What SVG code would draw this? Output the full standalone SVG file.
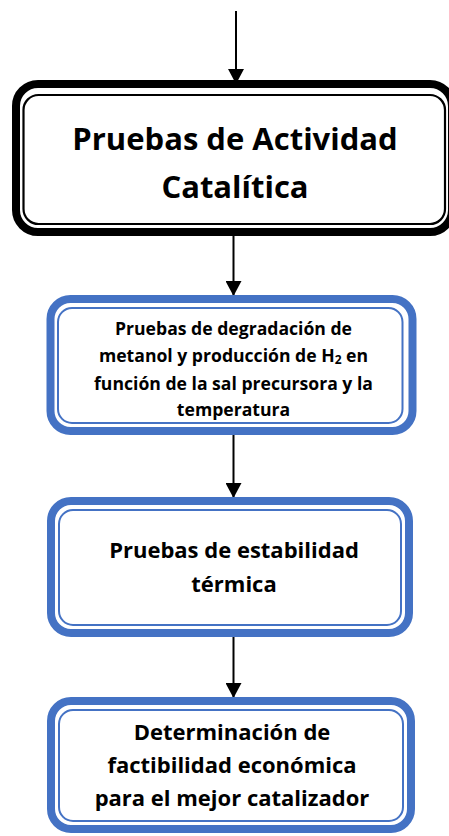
<svg xmlns="http://www.w3.org/2000/svg" width="449" height="836" viewBox="0 0 449 836">
<style>
.t{font-family:"Open Sans","Liberation Sans",sans-serif;font-weight:bold;fill:#000;text-anchor:middle}
.ob{fill:none;stroke:#000;stroke-width:8}
.ib{fill:#fff;stroke:#000;stroke-width:2.2}
.obl{fill:none;stroke:#4472C4;stroke-width:8}
.ibl{fill:#fff;stroke:#4472C4;stroke-width:2}
.c{stroke:#000;stroke-width:2;fill:none}
</style>
<defs>
<marker id="ah" markerWidth="16" markerHeight="16" refX="14" refY="8" orient="auto" markerUnits="userSpaceOnUse">
<path d="M0,0 L15,8 L0,16 z" fill="#000"/>
</marker>
</defs>
<rect width="449" height="836" fill="#fff"/>
<g id="connectors">
<line class="c" x1="236" y1="11" x2="236" y2="83" marker-end="url(#ah)"/>
<line class="c" x1="233.5" y1="234" x2="233.5" y2="295" marker-end="url(#ah)"/>
<line class="c" x1="233.5" y1="435" x2="233.5" y2="497" marker-end="url(#ah)"/>
<line class="c" x1="233.5" y1="637" x2="233.5" y2="697" marker-end="url(#ah)"/>
</g>
<g id="node1">
<rect class="ob" x="16" y="84" width="436" height="148" rx="22"/>
<rect class="ib" x="23.5" y="95" width="421.5" height="129" rx="15"/>
<text class="t" x="235" y="150" font-size="31">Pruebas de Actividad</text>
<text class="t" x="235" y="198" font-size="31">Catalítica</text>
</g>
<g id="node2">
<rect class="obl" x="50.5" y="299" width="362" height="132" rx="20"/>
<rect class="ibl" x="58" y="308" width="344.5" height="115" rx="14"/>
<text class="t" x="233.5" y="335" font-size="17.6">Pruebas de degradación de</text>
<text class="t" x="233.5" y="362" font-size="17.6">metanol y producción de H<tspan font-size="12" dy="2">2</tspan><tspan dy="-2"> en</tspan></text>
<text class="t" x="233.5" y="390" font-size="17.6">función de la sal precursora y la</text>
<text class="t" x="233.5" y="416" font-size="17.6">temperatura</text>
</g>
<g id="node3">
<rect class="obl" x="51" y="501" width="358" height="132" rx="20"/>
<rect class="ibl" x="59" y="510" width="342" height="115" rx="14"/>
<text class="t" x="234" y="558" font-size="22">Pruebas de estabilidad</text>
<text class="t" x="234" y="592" font-size="22">térmica</text>
</g>
<g id="node4">
<rect class="obl" x="51" y="701" width="360" height="128" rx="20"/>
<rect class="ibl" x="59" y="710" width="344" height="111" rx="14"/>
<text class="t" x="232" y="740" font-size="22">Determinación de</text>
<text class="t" x="232" y="773" font-size="22">factibilidad económica</text>
<text class="t" x="232" y="806" font-size="22">para el mejor catalizador</text>
</g>
</svg>
